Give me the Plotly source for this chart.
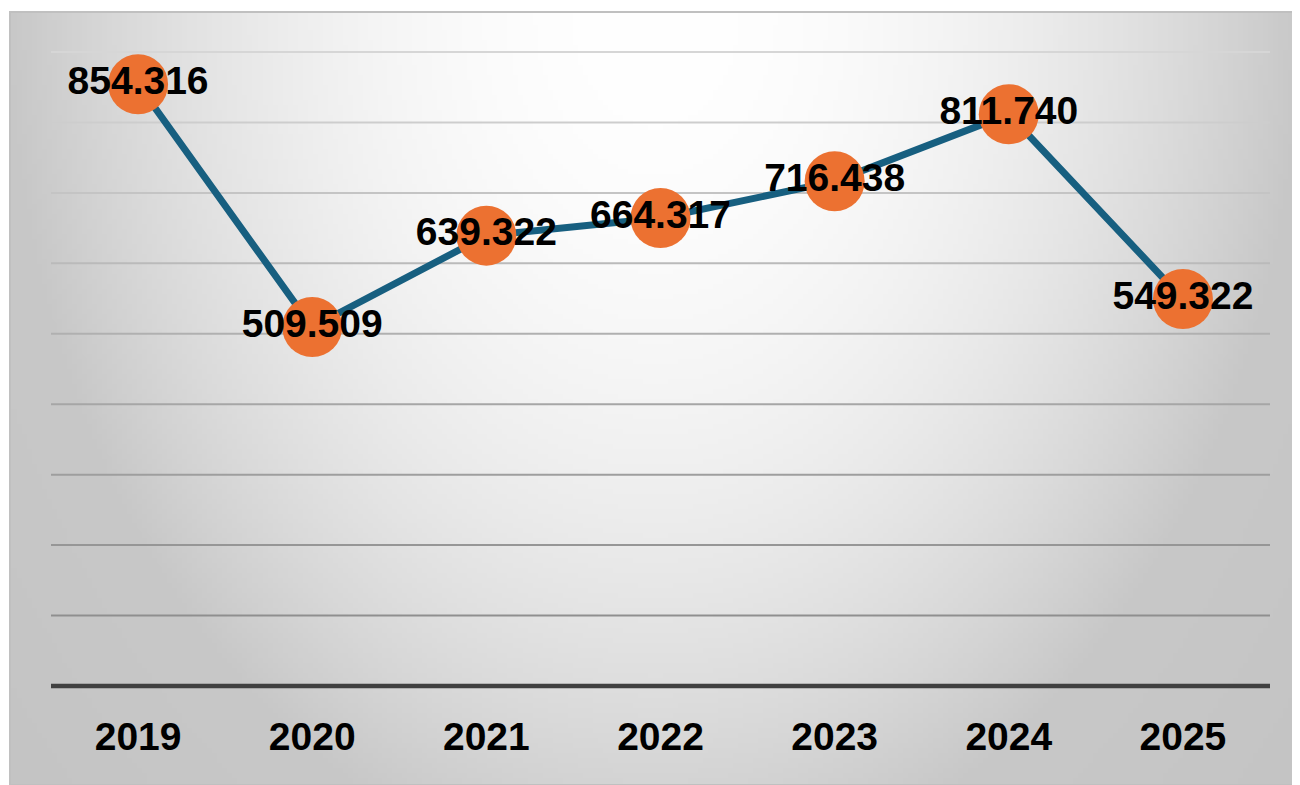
import base64, struct, zlib
import numpy as np
import plotly.graph_objects as go

# ---- data ----
years = ["2019", "2020", "2021", "2022", "2023", "2024", "2025"]
values = [854.316, 509.509, 639.322, 664.317, 716.438, 811.740, 549.322]
labels = ["854.316", "509.509", "639.322", "664.317", "716.438", "811.740", "549.322"]
grid_values = [100, 200, 300, 400, 500, 600, 700, 800, 900]
grid_colors = ["#8f8f8f", "#969696", "#9e9e9e", "#a6a6a6", "#b0b0b0",
               "#bababa", "#c4c4c4", "#cdcdcd", "#d6d6d6"]
Y_MAX = 900

# ---- figure geometry (pixels; page body adds an 8px offset) ----
W, H = 1292, 777
L, R, T, B = 43, 30, 44, 99
pw, ph = W - L - R, H - T - B
box_x0, box_y0 = 2, 4


def make_png(w, h):
    ys, xs = np.mgrid[0:h, 0:w].astype(float)
    px = box_x0 + (xs + 0.5) / w * (W - box_x0)
    py = box_y0 + (ys + 0.5) / h * (H - box_y0)
    cx = (box_x0 + W) / 2
    r2 = ((px - cx) / 645.0) ** 2 + ((py - box_y0) / 873.0) ** 2
    c = np.where(r2 <= 1, 255 - 55 * r2, 200 - 5 * (r2 - 1))
    c = np.clip(c, 0, 255).astype(np.uint8)
    rgb = np.stack([c, c, c], axis=-1)
    raw = b"".join(b"\x00" + rgb[i].tobytes() for i in range(h))

    def chunk(tag, data):
        return (struct.pack(">I", len(data)) + tag + data +
                struct.pack(">I", zlib.crc32(tag + data) & 0xffffffff))
    png = (b"\x89PNG\r\n\x1a\n" +
           chunk(b"IHDR", struct.pack(">IIBBBBB", w, h, 8, 2, 0, 0, 0)) +
           chunk(b"IDAT", zlib.compress(raw, 9)) +
           chunk(b"IEND", b""))
    return "data:image/png;base64," + base64.b64encode(png).decode()


bg = make_png(258, 155)

fx0 = (box_x0 - L) / pw
fsx = (W - box_x0) / pw
fy1 = (H - B - box_y0) / ph
fsy = (H - box_y0) / ph

FONT = "Liberation Sans, Arial, sans-serif"

fig = go.Figure()
fig.add_trace(go.Scatter(
    x=years, y=values, mode="lines+markers+text",
    text=labels, textposition="middle center",
    textfont=dict(family=FONT, size=39, color="#000000", weight="bold"),
    line=dict(color="#175f80", width=7),
    marker=dict(size=60, color="#ec7131", line=dict(width=0)),
    hoverinfo="skip", cliponaxis=False, showlegend=False,
))

shapes = []
for gv, gc in zip(grid_values, grid_colors):
    shapes.append(dict(type="line", xref="paper", yref="paper", x0=0, x1=1,
                       y0=gv / Y_MAX, y1=gv / Y_MAX,
                       line=dict(color=gc, width=2), layer="below"))
shapes.append(dict(type="line", xref="paper", yref="paper", x0=0, x1=1, y0=0, y1=0,
                   line=dict(color="#404040", width=4.5), layer="below"))
shapes.append(dict(type="rect", xref="paper", yref="paper", x0=fx0, x1=fx0 + fsx,
                   y0=fy1 - fsy, y1=fy1, line=dict(color="#c0c0c0", width=2), layer="below"))

fig.update_layout(
    width=W, height=H,
    margin=dict(l=L, r=R, t=T, b=B),
    paper_bgcolor="white", plot_bgcolor="rgba(0,0,0,0)",
    images=[dict(source=bg, xref="paper", yref="paper", x=fx0, y=fy1,
                 sizex=fsx, sizey=fsy, sizing="stretch", layer="below",
                 xanchor="left", yanchor="top")],
    shapes=shapes,
    xaxis=dict(type="category", range=[-0.5, 6.5], showgrid=False, zeroline=False,
               showline=False, ticks="", ticklabelstandoff=24,
               tickfont=dict(family=FONT, size=39, color="#000000", weight="bold")),
    yaxis=dict(range=[0, Y_MAX], showgrid=False, zeroline=False, showline=False,
               showticklabels=False, ticks=""),
)
fig.write_html("out.html")
